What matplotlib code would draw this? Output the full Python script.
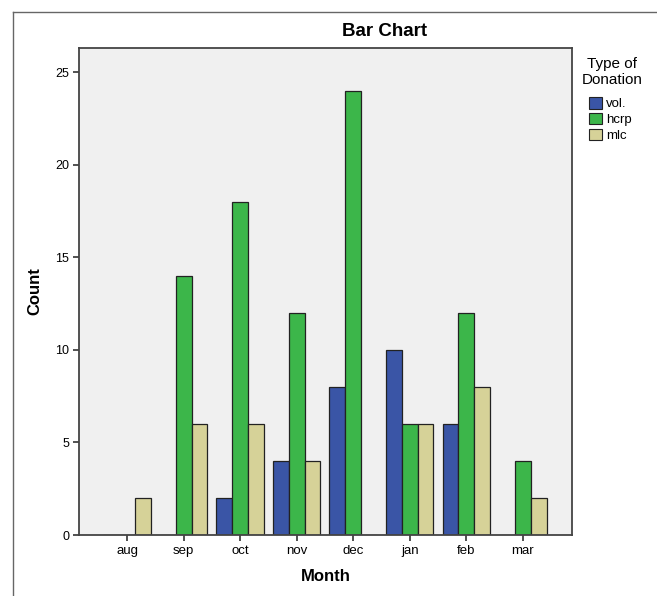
import matplotlib
matplotlib.use("Agg")
import matplotlib.pyplot as plt
from matplotlib.lines import Line2D
import numpy as np

plt.rcParams['font.family'] = ['Liberation Sans', 'DejaVu Sans']

months = ["aug", "sep", "oct", "nov", "dec", "jan", "feb", "mar"]
series_names = ["vol.", "hcrp", "mlc"]
vol = [0, 0, 2, 4, 8, 10, 6, 0]
hcrp = [0, 14, 18, 12, 24, 6, 12, 4]
mlc = [2, 6, 6, 4, 0, 6, 8, 2]
colors = ["#3a55a6", "#3cb64a", "#d6d298"]
y_ticks = [0, 5, 10, 15, 20, 25]

W, H = 657, 596
fig = plt.figure(figsize=(W / 100, H / 100), dpi=100)
fig.patch.set_facecolor("white")

l, r, b, t = 79 / W, 572 / W, (H - 535) / H, (H - 48) / H
ax = fig.add_axes([l, b, r - l, t - b])
ax.set_facecolor("#f0f0f0")

x = np.arange(len(months))
bw = 0.28
for i, (vals, c, name) in enumerate(zip([vol, hcrp, mlc], colors, series_names)):
    ax.bar(x + (i - 1) * bw, vals, width=bw, color=c, edgecolor="#222222",
           linewidth=0.9, label=name, zorder=2)

ax.set_xlim(-0.85, len(months) - 1 + 0.87)
ax.set_ylim(0, 26.3)
ax.set_xticks(x)
ax.set_xticklabels(months, fontsize=9.5)
ax.set_yticks(y_ticks)
ax.set_yticklabels([str(v) for v in y_ticks], fontsize=9)
ax.tick_params(axis="both", direction="out", length=4, width=1.2, color="#333333", pad=3)
for s in ax.spines.values():
    s.set_color("#444444")
    s.set_linewidth(1.3)

ax.set_xlabel("Month", fontsize=12, fontweight="bold", labelpad=9)
ax.set_ylabel("Count", fontsize=12, fontweight="bold", labelpad=9)
fig.text(385 / W, 1 - 32 / H, "Bar Chart", ha="center", va="center",
         fontsize=13.5, fontweight="bold")

# legend title
fig.text(612 / W, 1 - 72 / H, "Type of\nDonation", ha="center", va="center",
         multialignment="center", fontsize=11, linespacing=1.15)

leg = ax.legend(loc="upper left", bbox_to_anchor=(580 / W, 1 - 88 / H),
                bbox_transform=fig.transFigure, frameon=False,
                fontsize=9.5, handlelength=0.95, handleheight=0.95,
                handletextpad=0.3, labelspacing=0.2, borderpad=0.2)
for p in leg.get_patches():
    p.set_edgecolor("#222222")
    p.set_linewidth(0.8)

# outer frame (left and top edges)
fig.add_artist(Line2D([13 / W, 13 / W], [0, 1 - 12 / H], transform=fig.transFigure,
                      color="#666666", linewidth=1.0))
fig.add_artist(Line2D([13 / W, 1], [1 - 12 / H, 1 - 12 / H], transform=fig.transFigure,
                      color="#666666", linewidth=1.0))

fig.savefig("out.png", dpi=100)
